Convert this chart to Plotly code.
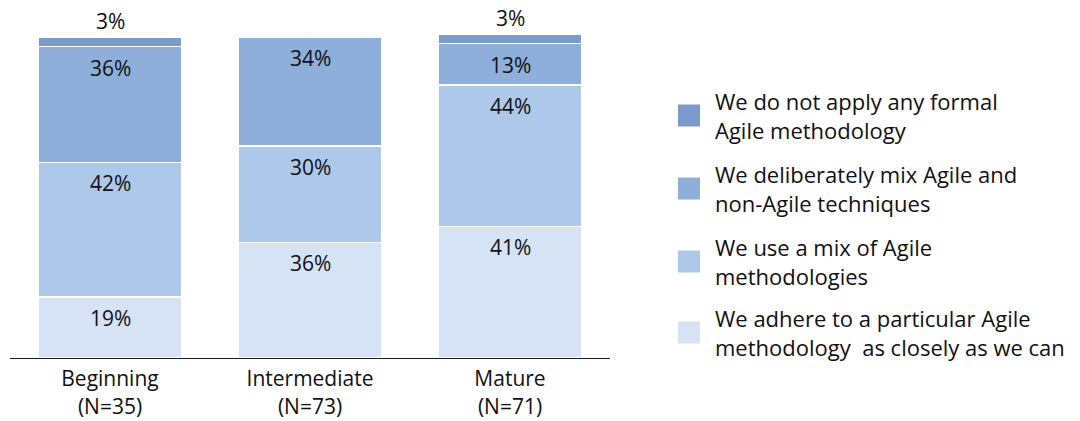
import plotly.graph_objects as go

categories = ["Beginning", "Intermediate", "Mature"]
sample_sizes = ["(N=35)", "(N=73)", "(N=71)"]

# series, bottom to top
adhere = [19, 36, 41]
mix_agile = [42, 30, 44]
mix_non_agile = [36, 34, 13]
no_formal = [3, 0, 3]

series_names = [
    ["We adhere to a particular Agile", "methodology\u00a0 as closely as we can"],
    ["We use a mix of Agile", "methodologies"],
    ["We deliberately mix Agile and", "non-Agile techniques"],
    ["We do not apply any formal", "Agile methodology"],
]
series_values = [adhere, mix_agile, mix_non_agile, no_formal]
colors = ["#D5E3F5", "#ADC8E8", "#8FAFDB", "#7A9BCB"]

W, H = 1080, 421
ML, MR, MT, MB = 10, 470, 5, 63
FONT = "Open Sans"

def px_x(px):
    return (px - ML) / (W - ML - MR)

def px_y(py):
    return (H - MB - py) / (H - MT - MB)

fig = go.Figure()
for vals, col, name in zip(series_values, colors, series_names):
    fig.add_trace(go.Bar(
        x=categories, y=vals, name=" ".join(name),
        marker=dict(color=col, line=dict(color="white", width=1.5)),
        showlegend=False, hoverinfo="skip",
    ))

annotations = []
cum = [0, 0, 0]
for si, vals in enumerate(series_values):
    for ci, v in enumerate(vals):
        top = cum[ci] + v
        if v > 0:
            shift = 16 if si == len(series_values) - 1 else -21
            annotations.append(dict(x=categories[ci], y=top, text=f"{v}%", showarrow=False,
                                    yanchor="middle", yshift=shift,
                                    font=dict(family=FONT, size=21, color="#111")))
        cum[ci] = top

# legend (top to bottom: reverse order)
shapes = []
legend_centers = [115.5, 188.5, 261.5, 332.5]
for k, (name, col) in enumerate(zip(reversed(series_names), reversed(colors))):
    cy = legend_centers[k]
    shapes.append(dict(type="rect", xref="paper", yref="paper",
                       x0=px_x(678), x1=px_x(700), y0=px_y(cy - 11), y1=px_y(cy + 11),
                       fillcolor=col, line=dict(width=0)))
    annotations.append(dict(xref="paper", yref="paper", x=px_x(713), y=px_y(cy),
                            xanchor="left", yanchor="middle", align="left",
                            text="<br>".join(name), showarrow=False,
                            font=dict(family=FONT, size=22, color="#111")))

fig.update_layout(
    barmode="stack", bargap=0.285,
    width=W, height=H,
    margin=dict(l=ML, r=MR, t=MT, b=MB, autoexpand=False),
    paper_bgcolor="white", plot_bgcolor="white",
    font=dict(family=FONT, size=21, color="#111"),
    xaxis=dict(tickvals=categories,
               ticktext=[f"{c}<br>{n}" for c, n in zip(categories, sample_sizes)],
               showline=True, linecolor="#1a1a1a", linewidth=1.3,
               ticks="", showgrid=False, zeroline=False, ticklabelstandoff=2,
               tickfont=dict(family=FONT, size=21, color="#111"),
               range=[-0.5, 2.5], fixedrange=True),
    yaxis=dict(range=[0, 110], visible=False, showgrid=False, zeroline=False, fixedrange=True),
    annotations=annotations, shapes=shapes,
)

fig.write_html("out.html")
